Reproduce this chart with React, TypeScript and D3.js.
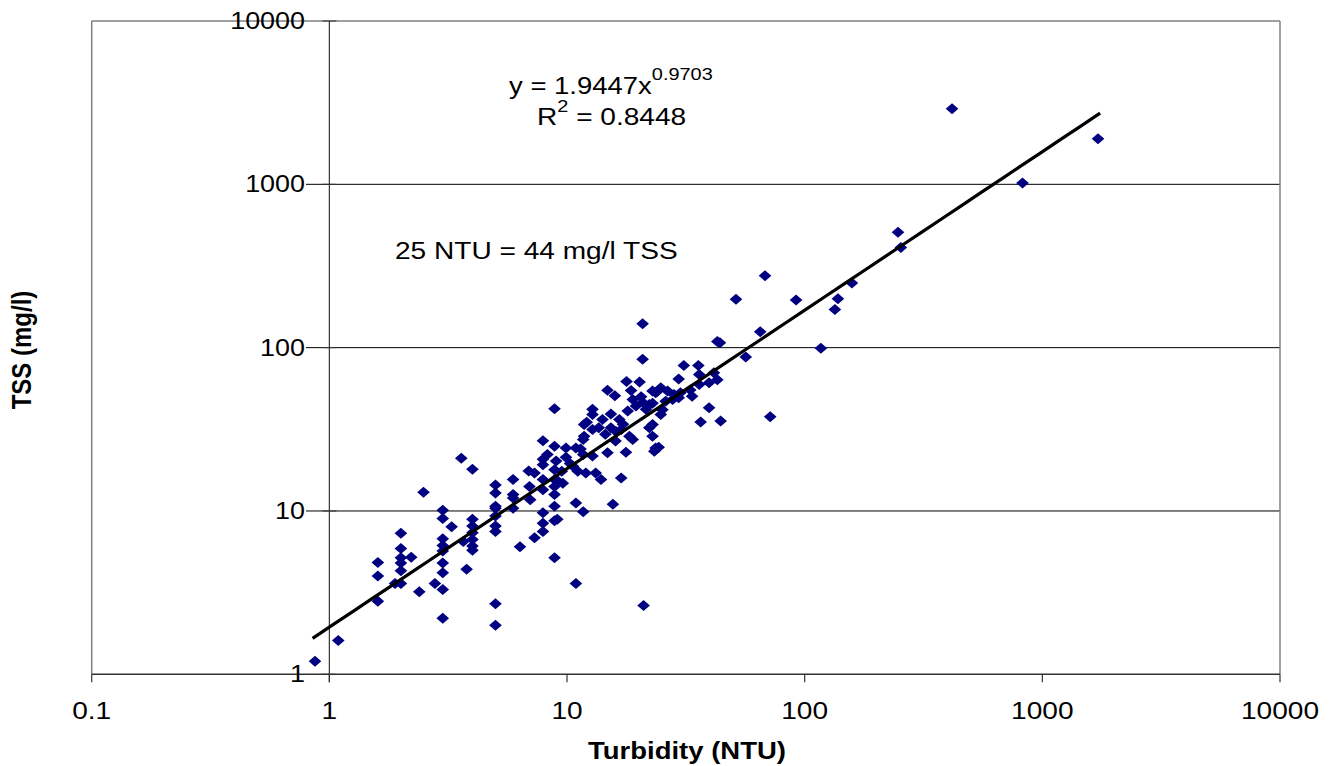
import React from "react";
import * as d3 from "d3";

// Turbidity (NTU) and TSS (mg/l) sample pairs
const turbidity = [
  0.87, 1.09, 1.6, 1.6, 1.6, 2, 2, 2, 2, 2, 2, 1.89, 2.21, 2.39, 2.49, 2.78,
  3, 3, 3.27, 3, 3, 3, 3, 3, 3, 3, 3.59, 4, 4, 4, 4, 4, 4, 4, 3.66, 3.78,
  5, 5, 5, 5, 5, 5, 5, 5, 5, 5.93, 5.93, 5.93, 5.93, 6.34, 6.9, 7.3, 6.95, 7, 7.3,
  7.92, 8.27, 7.92, 7.92, 7.92, 7.92, 7.92, 7.92, 7.92,
  8.86, 8.86, 8.86, 8.86, 8.86, 8.86, 8.86, 8.86, 8.86,
  9.9, 10.9, 9.9, 9, 10.6, 9.5, 11.1, 9.6, 9, 10.9, 11.7, 9.1, 10.9,
  11.7, 11.8, 11.8, 12.8, 12.8, 12.8, 13.6, 11.7, 12.8, 12, 13.2, 13.9, 14.1,
  14.8, 15.9, 15.3, 15.3, 16.6, 16.9, 16, 14.8, 16.9, 15.6,
  17.8, 20.2, 18.6, 18.9, 18, 18.3, 18.9, 17.7, 20.8, 20.8, 20.8, 22.2, 22.9, 24,
  22.2, 22.9, 23.6, 21, 24.8, 26.5, 28.2, 23.6, 33.6, 29.5, 22.9, 25.2, 27.8,
  39.6, 24.8, 36.5, 44.3, 71.6, 22.9, 24.3, 23.3, 29.5, 31, 35.7, 36, 41.5,
  42.9, 39.6, 36, 42.9, 44, 56.5, 65, 51.4, 68.1, 92, 117, 134, 138, 158,
  247, 254, 417, 825, 1715,
  12.1, 16.1, 20.5, 21.5, 19.5, 26, 30, 33, 14.5, 17.2, 10.3, 11.4
];
const tss = [
  1.2, 1.61, 4.84, 4.0, 2.8, 7.3, 5.9, 5.17, 4.8, 4.3, 3.6, 3.6, 5.2, 3.2, 13.0, 3.6,
  10.1, 9.0, 8.0, 6.75, 6.15, 5.68, 4.8, 4.18, 3.3, 2.2, 21.0, 18.0, 8.9, 8.1, 7.35, 6.7, 6.1, 5.75, 6.5, 4.4,
  14.4, 12.9, 10.7, 10.4, 9.3, 8.1, 7.5, 2.7, 2.0, 15.6, 12.6, 12.0, 10.4, 6.03, 17.6, 17.1, 14.1, 11.7, 6.85,
  26.9, 22.2, 20.7, 19.2, 15.6, 13.5, 9.75, 8.4, 7.5,
  42.3, 24.9, 17.9, 15.6, 14.1, 12.6, 10.7, 8.7, 5.17,
  24.3, 24.3, 21.3, 20.2, 18.8, 17.5, 17.5, 14.8, 15.6, 11.2, 9.9, 8.9, 3.6,
  27.4, 28.7, 33.8, 42.0, 39.0, 31.5, 32.3, 22.2, 21.7, 17.1, 17.1, 15.6, 36.3,
  54.8, 50.8, 39.2, 32.3, 36.3, 31.5, 26.8, 22.7, 15.9, 11.0,
  62, 61.6, 54.6, 48.1, 41, 28.7, 27.4, 22.9, 140, 85, 46.3, 44.8, 54.2, 54,
  32.3, 28.7, 24.3, 2.64, 56.9, 54.2, 51.6, 52.9, 50.4, 49.3, 45.7, 41.7, 48.1,
  42.8, 38.9, 35, 35.5, 37.8, 33.8, 24.6, 23.2, 64.2, 77.7, 77.7, 68.4, 70.1,
  63.6, 61, 59.5, 109, 107, 87.7, 125, 198, 276, 196, 99, 171, 199, 249,
  509, 410, 2900, 1020, 1900,
  34.9, 30.6, 50, 42, 44, 47, 53, 55, 29.5, 34, 19.5, 24
];
const xTicks = [0.1, 1, 10, 100, 1000, 10000];
const yTicks = [1, 10, 100, 1000, 10000];
const fitA = 1.9447;
const fitB = 0.9703;
const fitRange = [0.85, 1750];

const SX = 1.17;
const FONT = "'Liberation Sans', Arial, sans-serif";

const diamond = {
  draw(ctx: any, size: number) {
    const h = Math.sqrt(size) / 2;
    const w = h * 1.15;
    ctx.moveTo(0, -h);
    ctx.lineTo(w, 0);
    ctx.lineTo(0, h);
    ctx.lineTo(-w, 0);
    ctx.closePath();
  },
};

function T({ x, y, anchor = "start", size = 23, bold = false, rotate = 0, children }: any) {
  return (
    <text
      transform={`translate(${x},${y}) scale(${SX},1)${rotate ? ` rotate(${rotate})` : ""}`}
      textAnchor={anchor}
      fontSize={size}
      fontWeight={bold ? "bold" : "normal"}
      fontFamily={FONT}
      fill="#000"
    >
      {children}
    </text>
  );
}

export default function App() {
  const W = 1335, H = 766;
  const x = d3.scaleLog().domain([0.1, 10000]).range([91.7, 1280]);
  const y = d3.scaleLog().domain([1, 10000]).range([674.3, 21]);
  const sym = d3.symbol(diamond as any, 121)();
  const fitPts = d3.range(0, 41).map((i) => {
    const lx = Math.log10(fitRange[0]) + (i / 40) * (Math.log10(fitRange[1]) - Math.log10(fitRange[0]));
    const xv = Math.pow(10, lx);
    return [xv, fitA * Math.pow(xv, fitB)];
  });
  const line = d3.line<number[]>().x((d) => x(d[0])).y((d) => y(d[1]));
  const x0 = x(0.1), x1 = x(10000), y0 = y(1), y1 = y(10000);
  const yAxisX = x(1);
  return (
    <svg width={W} height={H} style={{ position: "absolute", left: 0, top: 0, background: "#fff" }}>
      {yTicks.filter((t) => t > 1 && t < 10000).map((t) => (
        <line key={"g" + t} x1={306} x2={x1} y1={y(t)} y2={y(t)} stroke="#000" strokeWidth={1} />
      ))}
      <line x1={x0} x2={x1} y1={y1} y2={y1} stroke="#808080" strokeWidth={1.5} />
      <line x1={x0} x2={x0} y1={y1} y2={y0} stroke="#808080" strokeWidth={1.5} />
      <line x1={x1} x2={x1} y1={y1} y2={y0} stroke="#808080" strokeWidth={1.5} />
      <line x1={x0} x2={x1} y1={y0} y2={y0} stroke="#333" strokeWidth={1.5} />
      <line x1={yAxisX} x2={yAxisX} y1={y1} y2={y0 + 8} stroke="#333" strokeWidth={1.2} />
      {xTicks.map((t) => (
        <line key={"xt" + t} x1={x(t)} x2={x(t)} y1={y0} y2={y0 + 8} stroke="#333" strokeWidth={1.2} />
      ))}
      {yTicks.map((t) => (
        <line key={"yt" + t} x1={yAxisX - 7} x2={yAxisX + 7} y1={y(t)} y2={y(t)} stroke="#333" strokeWidth={1} />
      ))}
      {xTicks.map((t) => (
        <T key={"xl" + t} x={x(t)} y={719} anchor="middle" size={24}>{String(t)}</T>
      ))}
      {yTicks.map((t) => (
        <T key={"yl" + t} x={305} y={y(t) + 8} anchor="end" size={23}>{String(t)}</T>
      ))}
      {turbidity.map((tv, i) => (
        <path key={"p" + i} d={sym!} transform={`translate(${x(tv)},${y(tss[i])})`} fill="#000080" />
      ))}
      <path d={line(fitPts as any)!} fill="none" stroke="#000" strokeWidth={3.2} />
      <text transform={`translate(509,94) scale(${SX},1)`} fontSize={23.5} fontFamily={FONT}>
        y = 1.9447x
        <tspan fontSize={17} dy={-14}>0.9703</tspan>
      </text>
      <text transform={`translate(537,125) scale(${SX},1)`} fontSize={24} fontFamily={FONT}>
        R<tspan fontSize={17} dy={-13}>2</tspan>
        <tspan dy={13}> = 0.8448</tspan>
      </text>
      <T x={395} y={259} size={24}>25 NTU = 44 mg/l TSS</T>
      <T x={687} y={759} anchor="middle" size={23.5} bold>Turbidity (NTU)</T>
      <T x={31} y={350} anchor="middle" size={24} bold rotate={-90}>TSS (mg/l)</T>
    </svg>
  );
}
